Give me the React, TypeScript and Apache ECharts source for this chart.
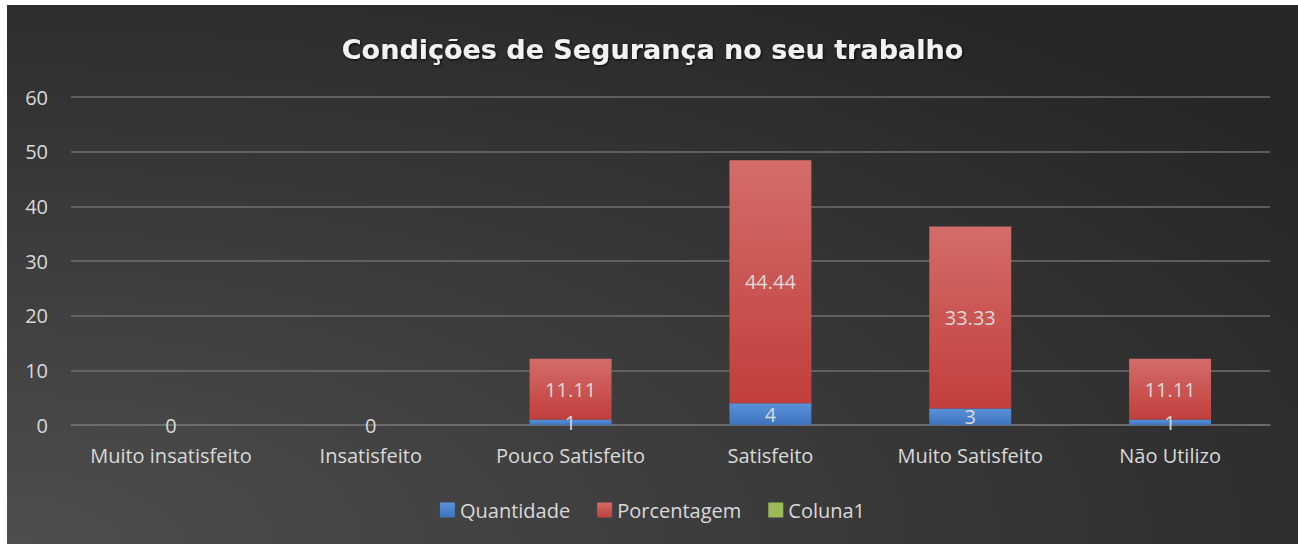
import React, { useEffect, useRef } from "react";
import * as echarts from "echarts";

const titleText = "Condições de Segurança no seu trabalho";
const categories = ["Muito insatisfeito", "Insatisfeito", "Pouco Satisfeito", "Satisfeito", "Muito Satisfeito", "Não Utilizo"];
const quantidade = [0, 0, 1, 4, 3, 1];
const porcentagem = [0, 0, 11.11, 44.44, 33.33, 11.11];
const coluna1: (number | null)[] = [null, null, null, null, null, null];

const textColor = "#d9d9d9";
const font = "'Open Sans', sans-serif";

export default function App() {
  const ref = useRef<HTMLDivElement>(null);
  useEffect(() => {
    document.body.style.margin = "0";
    const chart = echarts.init(ref.current!, undefined, { renderer: "svg" });
    chart.setOption({
      animation: false,
      backgroundColor: new echarts.graphic.RadialGradient(0, 1, 1.25, [
        { offset: 0, color: "#4e4e4e" },
        { offset: 1, color: "#262626" },
      ]),
      title: {
        text: titleText,
        left: "center",
        top: 26,
        textStyle: {
          color: "#f2f2f2",
          fontFamily: "'DejaVu Sans', sans-serif",
          fontWeight: "bold",
          fontSize: 27,
          textShadowColor: "rgba(0,0,0,0.8)",
          textShadowBlur: 3,
          textShadowOffsetX: 1,
          textShadowOffsetY: 1,
        },
      },
      legend: {
        top: 490,
        left: "center",
        itemWidth: 15,
        itemHeight: 15,
        itemGap: 27,
        icon: "rect",
        textStyle: { color: textColor, fontSize: 20, fontFamily: font, padding: [0, 0, 0, 0] },
        data: ["Quantidade", "Porcentagem", "Coluna1"],
      },
      grid: { left: 64, right: 28, top: 92, bottom: 119, containLabel: false },
      xAxis: {
        type: "category",
        data: categories,
        axisLine: { lineStyle: { color: "#6f6f6f", width: 1.5 } },
        axisTick: { show: false },
        axisLabel: { color: textColor, fontSize: 20, fontFamily: font, margin: 20, interval: 0 },
      },
      yAxis: {
        type: "value",
        min: 0,
        max: 60,
        interval: 10,
        axisLine: { show: false },
        axisTick: { show: false },
        splitLine: { lineStyle: { color: "#6f6f6f", width: 1.5 } },
        axisLabel: { color: textColor, fontSize: 20, fontFamily: font, margin: 23 },
      },
      series: [
        {
          name: "Quantidade",
          type: "bar",
          stack: "s",
          barWidth: "41%",
          data: quantidade,
          itemStyle: {
            color: new echarts.graphic.LinearGradient(0, 0, 0, 1, [
              { offset: 0, color: "#5a93da" },
              { offset: 1, color: "#3e72bd" },
            ]),
          },
          label: {
            show: true,
            position: "inside",
            color: textColor,
            fontSize: 20,
            fontFamily: font,
          },
        },
        {
          name: "Porcentagem",
          type: "bar",
          stack: "s",
          data: porcentagem,
          itemStyle: {
            color: new echarts.graphic.LinearGradient(0, 0, 0, 1, [
              { offset: 0, color: "#d46c69" },
              { offset: 1, color: "#c03f3c" },
            ]),
          },
          label: {
            show: true,
            position: "inside",
            color: textColor,
            fontSize: 20,
            fontFamily: font,
            formatter: (p: any) => (p.value ? String(p.value) : ""),
          },
        },
        {
          name: "Coluna1",
          type: "bar",
          stack: "s",
          data: coluna1,
          itemStyle: { color: "#9bbb59" },
        },
      ],
    });
    return () => chart.dispose();
  }, []);
  return (
    <div
      ref={ref}
      style={{ position: "absolute", left: 7, top: 5, width: 1291, height: 539 }}
    />
  );
}
